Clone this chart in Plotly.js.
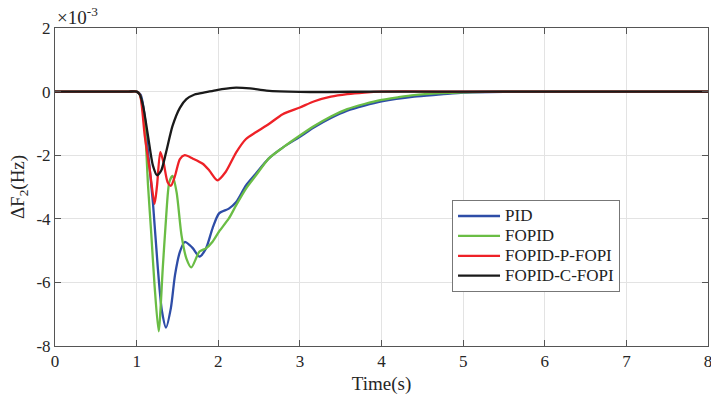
<!DOCTYPE html>
<html>
<head>
<meta charset="utf-8">
<script src="https://cdn.plot.ly/plotly-3.0.1.min.js"></script>
<style>html,body{margin:0;padding:0;background:#fff;}#chart{width:711px;height:400px;}</style>
</head>
<body>
<div id="chart"></div>
<script>
// Values in units of 1e-3 Hz
const tPID = [0, 0.5, 0.9, 1.0, 1.05, 1.1, 1.14, 1.2, 1.26, 1.31, 1.36, 1.42, 1.47, 1.53, 1.59, 1.65, 1.69, 1.77, 1.85, 1.93, 2.01, 2.13, 2.22, 2.34, 2.46, 2.62, 2.79, 3.0, 3.17, 3.38, 3.58, 3.79, 4.0, 4.4, 4.73, 5.0, 5.5, 6.5, 8];
const vPID = [0, 0, 0, 0, -0.1, -0.8, -1.9, -3.5, -5.56, -6.9, -7.42, -6.8, -5.77, -5.04, -4.73, -4.83, -4.93, -5.19, -4.93, -4.3, -3.83, -3.68, -3.47, -2.95, -2.58, -2.1, -1.76, -1.42, -1.13, -0.83, -0.6, -0.44, -0.31, -0.16, -0.09, -0.03, -0.005, 0, 0];

const tFOPID = [0, 0.5, 0.9, 1.0, 1.04, 1.1, 1.14, 1.18, 1.22, 1.27, 1.32, 1.36, 1.40, 1.44, 1.49, 1.55, 1.61, 1.67, 1.77, 1.85, 1.93, 2.01, 2.13, 2.22, 2.34, 2.46, 2.62, 2.79, 3.0, 3.17, 3.38, 3.58, 3.79, 4.0, 4.2, 4.4, 4.73, 5.0, 5.5, 6.5, 8];
const vFOPID = [0, 0, 0, 0, -0.1, -1.1, -2.96, -4.5, -6.1, -7.54, -5.56, -4.0, -2.85, -2.65, -3.17, -4.52, -5.25, -5.53, -5.03, -4.93, -4.72, -4.4, -3.99, -3.57, -3.05, -2.64, -2.1, -1.76, -1.38, -1.09, -0.78, -0.55, -0.39, -0.26, -0.18, -0.11, -0.05, -0.02, 0, 0, 0];

const tPFOPI = [0, 0.5, 0.9, 1.0, 1.04, 1.1, 1.16, 1.22, 1.25, 1.29, 1.33, 1.38, 1.42, 1.47, 1.53, 1.59, 1.69, 1.81, 1.89, 1.99, 2.09, 2.22, 2.34, 2.46, 2.62, 2.79, 3.0, 3.17, 3.38, 3.58, 3.79, 4.0, 5.0, 6.5, 8];
const vPFOPI = [0, 0, 0, 0, -0.1, -1.4, -2.44, -3.53, -2.96, -1.9, -2.23, -2.85, -2.96, -2.65, -2.12, -2.0, -2.11, -2.27, -2.48, -2.79, -2.53, -1.91, -1.49, -1.28, -1.02, -0.71, -0.5, -0.31, -0.16, -0.08, -0.03, 0, 0, 0, 0];

const tCFOPI = [0, 0.5, 0.9, 1.0, 1.04, 1.08, 1.14, 1.2, 1.25, 1.3, 1.36, 1.44, 1.53, 1.61, 1.71, 1.85, 1.98, 2.18, 2.39, 2.59, 3.0, 4.0, 5.5, 8];
const vCFOPI = [0, 0, 0, 0, -0.1, -0.46, -1.4, -2.33, -2.63, -2.49, -1.92, -1.08, -0.51, -0.24, -0.09, -0.02, 0.05, 0.12, 0.1, 0.03, -0.01, 0, 0, 0];

const names = ['PID', 'FOPID', 'FOPID-P-FOPI', 'FOPID-C-FOPI'];
const colors = ['#2E4DA7', '#6ABD45', '#EE2127', '#1A1A1A'];
const xTicks = [0, 1, 2, 3, 4, 5, 6, 7, 8];
const yTicks = [2, 0, -2, -4, -6, -8];

const series = [[tPID, vPID], [tFOPID, vFOPID], [tPFOPI, vPFOPI], [tCFOPI, vCFOPI]];
const data = series.map((s, i) => ({
  x: s[0], y: s[1], name: '<span style="font-size:17px">' + names[i] + '</span>', type: 'scatter', mode: 'lines',
  line: {color: colors[i], width: 2.3, shape: 'spline', smoothing: 0.7}
}));

const font = 'Liberation Serif, Times New Roman, serif';
const layout = {
  width: 711, height: 400,
  margin: {l: 55, r: 3, t: 28, b: 54},
  paper_bgcolor: '#fff', plot_bgcolor: '#fff',
  font: {family: font, size: 17, color: '#262626'},
  showlegend: true,
  legend: {x: 0.608, y: 0.459, xanchor: 'left', yanchor: 'top', bgcolor: '#fff', itemwidth: 42,
    bordercolor: '#777', borderwidth: 1, font: {family: font, size: 13, color: '#222'}, tracegroupgap: 0},
  xaxis: {range: [0, 8], tickvals: xTicks, ticktext: xTicks.map(String), showgrid: true, gridcolor: '#e3e3e3',
    zeroline: false, showline: true, linecolor: '#555', linewidth: 1, mirror: 'ticks', ticks: 'inside', ticklen: 6,
    tickcolor: '#555', ticklabeloverflow: 'allow', tickfont: {family: font, size: 17, color: '#262626'},
    title: {text: 'Time(s)', font: {family: font, size: 19, color: '#262626'}, standoff: 6}},
  yaxis: {range: [-8, 2], tickvals: yTicks, ticktext: yTicks.map(String), showgrid: true, gridcolor: '#e3e3e3',
    zeroline: false, showline: true, linecolor: '#555', linewidth: 1, mirror: 'ticks', ticks: 'inside', ticklen: 6,
    tickcolor: '#555', tickfont: {family: font, size: 17, color: '#262626'},
    title: {text: 'ΔF<sub>2</sub>(Hz)', font: {family: font, size: 19, color: '#262626'}, standoff: 6}},
  annotations: [{xref: 'paper', yref: 'paper', x: 0, y: 1, xanchor: 'left', yanchor: 'bottom', yshift: -2, xshift: 0,
    showarrow: false, text: '×10<sup>-3</sup>', font: {family: font, size: 19, color: '#262626'}}]
};

Plotly.newPlot('chart', data, layout, {displayModeBar: false, staticPlot: true});
</script>
</body>
</html>
